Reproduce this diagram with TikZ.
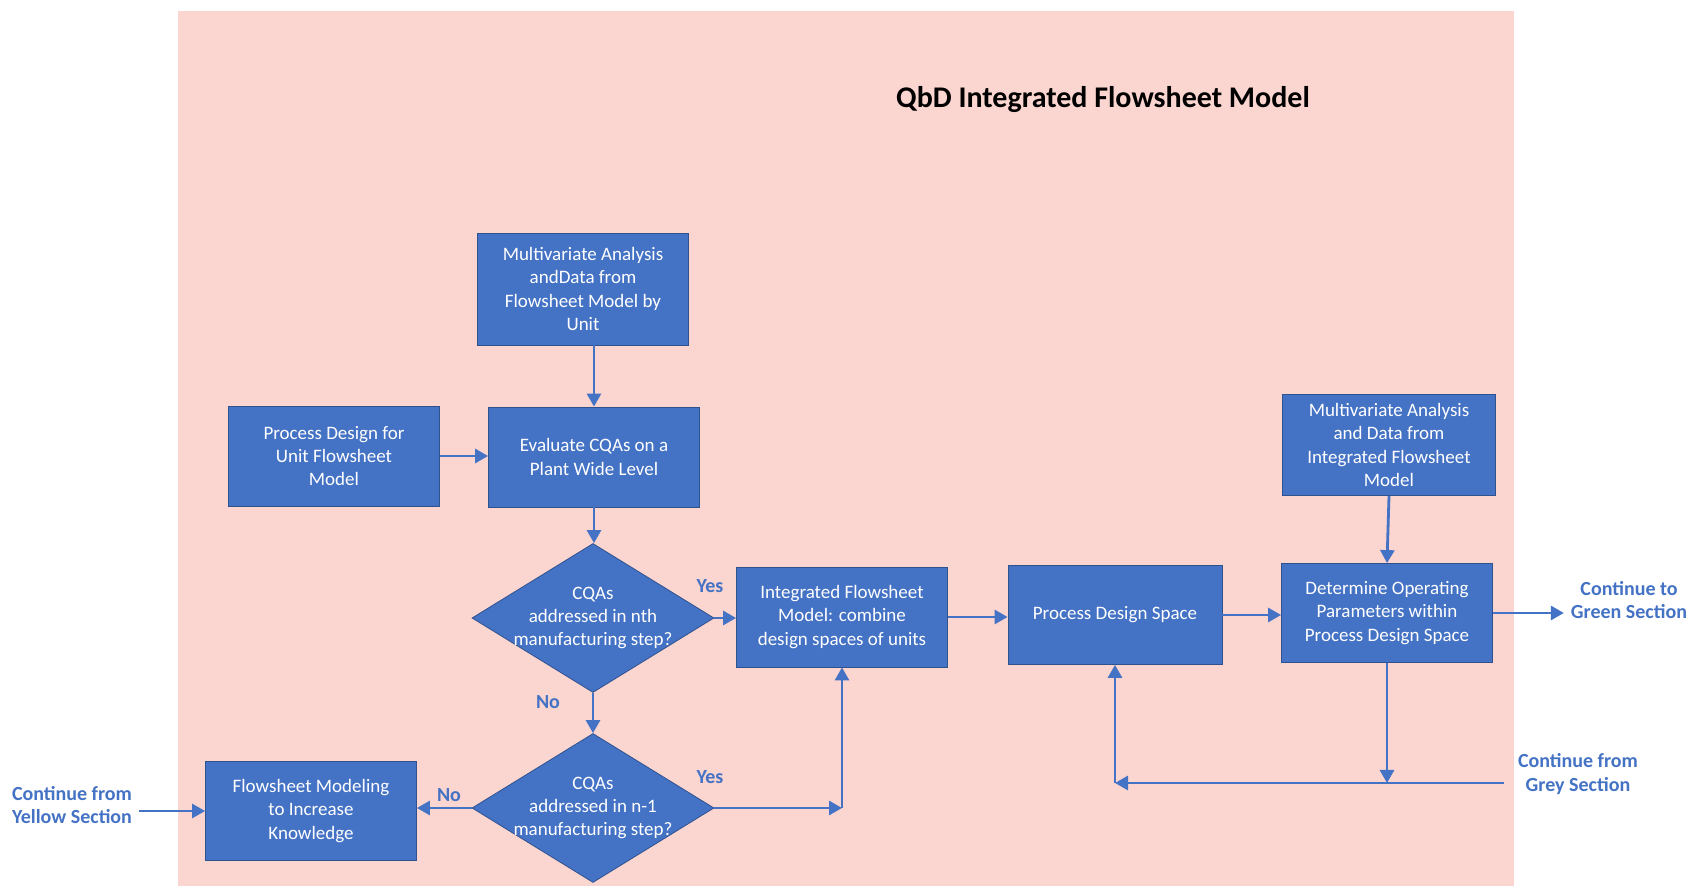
\documentclass[tikz,border=0pt]{standalone}
\usepackage{fontspec}
\setmainfont{Carlito}
\usetikzlibrary{shapes.geometric,arrows.meta}
\definecolor{boxblue}{RGB}{68,114,196}
\definecolor{boxedge}{RGB}{47,82,143}
\definecolor{bgpink}{RGB}{251,213,208}

\begin{document}
\begin{tikzpicture}[x=0.5pt,y=-0.5pt]
        \tikzset{box/.style={draw=boxedge,fill=boxblue,text=white,align=center,
                minimum width=105.5pt,minimum height=50pt,inner sep=2pt,
                font=\fontsize{9.5}{11.7}\selectfont},
            decision/.style={diamond,draw=boxedge,fill=boxblue,inner sep=0pt,
                minimum width=121pt,minimum height=74.5pt},
            qtext/.style={text=white,align=center,font=\fontsize{9.5}{11.7}\selectfont},
            lbl/.style={text=boxblue,align=center,font=\fontsize{10}{11.7}\selectfont\bfseries},
            flow/.style={draw=boxblue,line width=1.4pt,-{Triangle[length=6.5pt,width=7pt]}}}
        \useasboundingbox (0,0) rectangle (1694,886);
        \fill[bgpink] (178,11) rectangle (1514,886);
        \node[font=\fontsize{15}{17}\selectfont\bfseries] (title) at (1103,100) {QbD Integrated Flowsheet Model};
        % left column
        \node[box,minimum height=56pt] (mvunit) at (583,289) {Multivariate Analysis\\andData from\\Flowsheet Model by\\Unit};
        \node[box] (evalcqa) at (594,457) {Evaluate CQAs on a\\Plant Wide Level};
        \node[box] (procdes) at (334,456) {Process Design for\\Unit Flowsheet\\Model};
        \node[decision,label={[qtext]center:CQAs\\addressed in nth\\manufacturing step?}] (nth) at (593,618) {};
        \node[decision,label={[qtext]center:CQAs\\addressed in n-1\\manufacturing step?}] (nm1) at (593,808) {};
        \node[box,minimum height=49.5pt] (fsmod) at (311,811) {Flowsheet Modeling\\to Increase\\Knowledge};
        % right part
        \node[box] (intfs) at (842,617) {Integrated Flowsheet\\Model: combine\\design spaces of units};
        \node[box,minimum width=107pt,minimum height=49.5pt] (pds) at (1115,615) {Process Design Space};
        \node[box,minimum width=106.5pt,minimum height=50.5pt] (mvint) at (1389,445) {Multivariate Analysis\\and Data from\\Integrated Flowsheet\\Model};
        \node[box,minimum height=49.5pt] (detop) at (1387,613) {Determine Operating\\Parameters within\\Process Design Space};
        % labels
        \node[lbl] (yes1) at (710,586) {Yes};
        \node[lbl] (yes2) at (710,777) {Yes};
        \node[lbl] (no1) at (548,702) {No};
        \node[lbl] (no2) at (449,795) {No};
        \node[lbl] (yellow) at (72,805) {Continue from\\Yellow Section};
        \node[lbl] (green) at (1629,600) {Continue to\\Green Section};
        \node[lbl] (grey) at (1578,774) {Continue from\\Grey Section};
        \coordinate (greyin) at (1504,783);
        \coordinate (loop) at (pds.south |- greyin);
        % arrows
        \draw[flow] (mvunit.south -| evalcqa.north) -- (evalcqa.north);
        \draw[flow] (procdes.east) -- (procdes.east -| evalcqa.west);
        \draw[flow] (evalcqa.south) -- (evalcqa.south |- nth.north);
        \draw[flow] (nth.east) -- (nth.east -| intfs.west);
        \draw[flow] (nth.south) -- (nm1.north);
        \draw[flow] (nm1.west) -- (nm1.west -| fsmod.east);
        \draw[flow] (nm1.east) -- (nm1.east -| intfs.south);
        \draw[flow] (nm1.east -| intfs.south) -- (intfs.south);
        \draw[flow] (yellow.east |- fsmod.west) -- (fsmod.west);
        \draw[flow] (intfs.east) -- (intfs.east -| pds.west);
        \draw[flow] (pds.east) -- (pds.east -| detop.west);
        \draw[flow] (mvint.south) -- (detop.north);
        \draw[flow] (detop.east) -- (detop.east -| green.west);
        \draw[flow] (detop.south) -- (detop.south |- loop);
        \draw[flow] (greyin) -- (loop);
        \draw[flow] (loop) -- (pds.south);
    \end{tikzpicture}
\end{document}
